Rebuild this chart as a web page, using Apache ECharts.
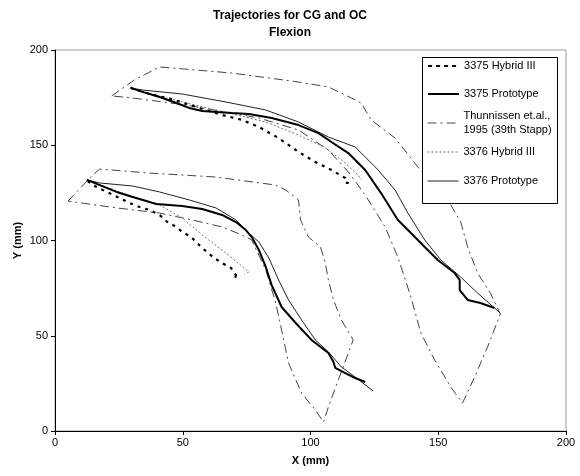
<!DOCTYPE html>
<html><head><meta charset="utf-8">
<script src="https://cdn.jsdelivr.net/npm/echarts@6/dist/echarts.min.js"></script>
<style>html,body{margin:0;padding:0;background:#fff}#c{width:580px;height:476px}</style>
</head><body><div id="c"></div>
<script>
var seriesNames = ['3375 Hybrid III','3375 Prototype','Thunnissen et.al.,\n1995 (39th Stapp)','3376 Hybrid III','3376 Prototype'];
var xTicks = [0,50,100,150,200];
var yTicks = [0,50,100,150,200];

// upper trajectories
var hyb3375Upper = [[29.6,180.1],[35.8,177.4],[46.7,173.8],[56.4,169.6],[65.4,165.9],[73.2,163.3],[79.8,159.6],[87.5,153.8],[95.3,146.5],[101.9,141.2],[108.2,137.0],[113.6,132.8],[114.8,130.2],[113.2,130.2]];
var proto3375Upper = [[29.6,180.1],[34.2,178.0],[40.9,175.3],[47.5,172.2],[52.5,169.6],[57.6,168.0],[63.0,167.5],[69.3,166.9],[75.9,166.4],[84.8,164.3],[95.3,160.6],[103.1,156.4],[108.2,151.7],[114.8,145.9],[121.4,137.0],[127.6,124.9],[134.2,110.8],[139.3,103.9],[144.7,96.6],[149.8,89.8],[156.4,82.9],[158.4,79.3],[158.4,74.0],[161.5,68.8],[166.5,67.2],[172.0,64.6]];
var thunUpper = [[22.2,175.9],[31.1,184.3],[40.9,191.1],[69.3,187.9],[95.3,183.2],[107.0,180.6],[116.0,174.8],[119.8,172.2],[123.7,163.3],[133.1,153.8],[142.0,138.6],[149.8,126.5],[154.9,118.6],[158.8,109.7],[161.5,96.6],[165.4,82.9],[170.4,72.4],[174.3,61.4],[169.3,44.1],[164.2,28.3],[159.5,14.7],[154.9,23.1],[148.6,37.3],[143.2,51.4],[139.3,70.3],[134.2,91.3],[129.2,107.1],[121.4,123.9],[114.8,136.0],[107.0,147.5],[95.3,158.0],[79.8,164.3],[51.4,171.1],[30.4,174.8],[22.2,175.9]];
var hyb3376Upper = [[29.6,180.1],[43.6,174.8],[63.0,168.5],[82.5,162.2],[95.3,155.4],[105.8,148.6],[112.1,142.3],[118.7,134.4],[119.8,131.8]];
var proto3376Upper = [[29.6,180.1],[34.2,179.0],[49.8,176.9],[66.9,172.7],[82.5,168.5],[95.3,162.2],[107.0,154.3],[117.5,149.1],[126.5,137.0],[133.1,126.5],[138.1,114.4],[144.7,100.3],[151.0,89.8],[158.8,80.8],[165.4,72.4],[174.3,61.9]];

// lower trajectories
var hyb3375Lower = [[12.8,131.2],[14.8,129.1],[18.7,126.5],[25.3,122.3],[29.2,119.7],[33.1,117.6],[37.0,116.0],[40.9,113.4],[44.0,109.7],[47.5,107.1],[49.8,104.5],[53.3,101.8],[57.6,96.1],[62.3,90.8],[65.4,88.2],[68.9,85.6],[70.8,81.9],[71.2,83.5],[70.4,79.8]];
var proto3375Lower = [[12.5,131.8],[17.5,129.1],[24.1,125.5],[30.4,122.8],[37.0,120.2],[39.7,119.2],[49.8,118.1],[57.6,116.5],[65.4,113.4],[70.8,109.7],[74.7,105.5],[77.0,101.8],[79.8,95.0],[82.5,86.1],[84.8,76.6],[88.7,65.1],[94.2,56.7],[100.4,47.8],[107.0,40.9],[109.0,36.2],[109.7,33.1],[113.6,30.4],[117.5,27.8],[121.4,25.7]];
var thunLower = [[5.1,120.7],[14.8,134.4],[17.5,137.5],[37.0,135.4],[63.0,133.3],[86.4,129.1],[90.3,126.5],[95.3,121.3],[96.1,110.8],[99.2,101.8],[103.9,96.6],[105.8,88.2],[107.0,79.3],[109.0,68.8],[112.1,58.3],[116.7,47.8],[114.8,40.9],[110.9,26.8],[107.0,12.6],[105.1,4.7],[101.9,11.0],[96.5,19.9],[91.4,35.7],[88.7,53.0],[86.4,67.2],[82.5,84.5],[77.0,100.3],[73.2,102.9],[65.4,107.1],[53.7,110.8],[40.9,114.4],[24.1,117.1],[7.8,120.2],[5.1,120.7]];
var hyb3376Lower = [[12.8,131.8],[25.3,125.5],[40.9,118.6],[49.8,111.8],[57.6,102.9],[66.9,93.4],[75.9,83.5],[74.3,82.4]];
var proto3376Lower = [[12.5,131.8],[17.5,130.2],[30.4,128.6],[40.9,125.5],[52.5,121.3],[63.0,117.1],[70.8,110.8],[75.9,103.9],[79.8,99.2],[83.7,90.8],[87.5,79.3],[91.4,68.8],[96.5,58.3],[101.9,47.8],[107.0,41.5],[112.1,33.6],[117.5,28.3],[124.5,21.0]];

var FONT = 'Liberation Sans, Arial, sans-serif';
var styles = [
  {color:'#000', width:2.2, type:[3,5]},
  {color:'#000', width:2, type:'solid'},
  {color:'#444', width:1, type:[9,4,2,4]},
  {color:'#777', width:1, type:[2,2]},
  {color:'#222', width:1, type:'solid'}
];
var pairs = [[hyb3375Upper,hyb3375Lower],[proto3375Upper,proto3375Lower],[thunUpper,thunLower],[hyb3376Upper,hyb3376Lower],[proto3376Upper,proto3376Lower]];
var order = [2,3,0,4,1];
var series = [];
order.forEach(function(i){
  pairs[i].forEach(function(d){
    series.push({type:'line', name:seriesNames[i], data:d, symbol:'none', smooth:false,
      lineStyle:{color:styles[i].color, width:styles[i].width, type:styles[i].type},
      itemStyle:{color:styles[i].color}, animation:false, z:2});
  });
});

var legendCenters = [66,94,123,152,181];
var legends = seriesNames.map(function(n,i){
  var two = n.indexOf('\n')>=0;
  return {data:[n], orient:'vertical', left:427, top: two ? legendCenters[i]-21 : legendCenters[i]-7,
    itemWidth:31, itemHeight:14, padding:0, z:5, selectedMode:false,
    itemStyle:{opacity:0, borderWidth:0},
    lineStyle:{color:styles[i].color, width:styles[i].width, type: i===0 ? [4,4] : styles[i].type},
    textStyle:{fontSize:11, fontFamily:FONT, color:'#000', lineHeight:14, padding: two?[14,0,0,0]:0}};
});

var chart = echarts.init(document.getElementById('c'), null, {renderer:'canvas'});
chart.setOption({
  backgroundColor:'#fff',
  animation:false,
  title:{text:'Trajectories for CG and OC\nFlexion', left:'center', top:2,
    textStyle:{fontSize:12, fontWeight:'bold', fontFamily:FONT, color:'#000', lineHeight:17}},
  grid:{left:55, right:14, top:50, bottom:45, show:true, borderColor:'#9a9a9a', borderWidth:1},
  legend: legends,
  graphic:[{type:'rect', shape:{x:422.5, y:57.5, width:135, height:146}, z:3,
    style:{fill:'#fff', stroke:'#000', lineWidth:1}}],
  xAxis:{type:'value', min:0, max:200, interval:50, name:'X (mm)', nameLocation:'middle', nameGap:24,
    nameMoveOverlap:false,
    nameTextStyle:{fontSize:11, fontWeight:'bold', fontFamily:FONT, color:'#000'},
    axisLine:{lineStyle:{color:'#000'}}, axisTick:{length:4, lineStyle:{color:'#000'}},
    axisLabel:{fontSize:11, fontFamily:FONT, color:'#000', margin:6,
      formatter:function(v){return xTicks.indexOf(v)>=0?String(v):'';}},
    splitLine:{show:false}},
  yAxis:{type:'value', min:0, max:200, interval:50, name:'Y (mm)', nameLocation:'middle', nameGap:32,
    nameMoveOverlap:false,
    nameTextStyle:{fontSize:11, fontWeight:'bold', fontFamily:FONT, color:'#000'},
    axisLine:{show:true, lineStyle:{color:'#000'}}, axisTick:{show:true, length:4, lineStyle:{color:'#000'}},
    axisLabel:{fontSize:11, fontFamily:FONT, color:'#000', margin:7,
      formatter:function(v){return yTicks.indexOf(v)>=0?String(v):'';}},
    splitLine:{show:false}},
  series: series
});
</script></body></html>
